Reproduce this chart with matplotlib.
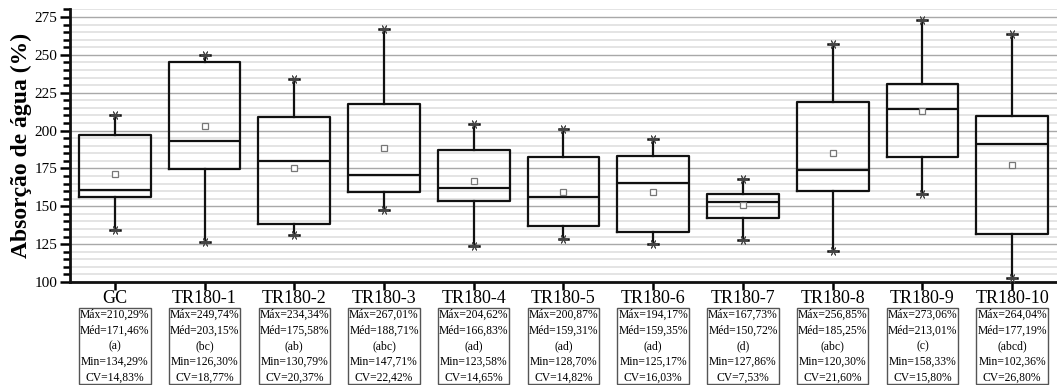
import matplotlib.pyplot as plt
from matplotlib.ticker import MultipleLocator

plt.rcParams['font.family'] = ['Liberation Serif', 'DejaVu Serif']

# Data
grupos = ['GC', 'TR180-1', 'TR180-2', 'TR180-3', 'TR180-4', 'TR180-5',
          'TR180-6', 'TR180-7', 'TR180-8', 'TR180-9', 'TR180-10']
maximo = [210.29, 249.74, 234.34, 267.01, 204.62, 200.87, 194.17, 167.73, 256.85, 273.06, 264.04]
minimo = [134.29, 126.30, 130.79, 147.71, 123.58, 128.70, 125.17, 127.86, 120.30, 158.33, 102.36]
media = [171.46, 203.15, 175.58, 188.71, 166.83, 159.31, 159.35, 150.72, 185.25, 213.01, 177.19]
q3 = [197.1, 245.5, 208.7, 217.8, 187.4, 182.8, 183.4, 157.9, 219.1, 231.0, 209.6]
mediana = [160.7, 193.1, 180.1, 170.4, 162.0, 156.3, 165.6, 152.6, 174.2, 214.2, 190.9]
q1 = [155.9, 174.4, 138.5, 159.4, 153.7, 137.2, 132.8, 142.5, 159.9, 182.8, 131.9]
cv = ['14,83', '18,77', '20,37', '22,42', '14,65', '14,82', '16,03', '7,53', '21,60', '15,80', '26,80']
letras = ['(a)', '(bc)', '(ab)', '(abc)', '(ad)', '(ad)', '(ad)', '(d)', '(abc)', '(c)', '(abcd)']

stats = []
for i in range(len(grupos)):
    stats.append({'label': grupos[i], 'whislo': minimo[i], 'q1': q1[i], 'med': mediana[i],
                  'q3': q3[i], 'whishi': maximo[i], 'mean': media[i], 'fliers': []})

fig = plt.figure(figsize=(10.57, 3.85), dpi=100)
ax = fig.add_axes([0.0662, 0.2675, 0.9338, 0.708])

lc = '#111111'
pos = list(range(1, len(grupos) + 1))
ax.bxp(stats, positions=pos, widths=0.8, showmeans=True, capwidths=0.11,
       boxprops=dict(color=lc, linewidth=1.6),
       medianprops=dict(color=lc, linewidth=1.6),
       whiskerprops=dict(color=lc, linewidth=1.6),
       capprops=dict(color=lc, linewidth=1.8),
       meanprops=dict(marker='s', markerfacecolor='white', markeredgecolor='#777777',
                      markersize=4.5, markeredgewidth=0.9),
       zorder=3)

# asterisks at whisker ends
ax.scatter(pos, maximo, marker=(6, 2, 90), s=35, color='#444444', linewidths=0.7, zorder=4)
ax.scatter(pos, minimo, marker=(6, 2, 90), s=35, color='#444444', linewidths=0.7, zorder=4)

ax.set_xlim(0.5, 11.5)
ax.set_ylim(100, 280)
ax.yaxis.set_major_locator(MultipleLocator(25))
ax.yaxis.set_minor_locator(MultipleLocator(5))
ax.grid(True, which='major', axis='y', color='#a8a8a8', linewidth=1.0, zorder=0)
ax.grid(True, which='minor', axis='y', color='#e2e2e2', linewidth=1.3, zorder=0)
ax.set_axisbelow(True)

for s in ['top', 'right']:
    ax.spines[s].set_visible(False)
for s in ['left', 'bottom']:
    ax.spines[s].set_linewidth(2)
    ax.spines[s].set_color(lc)

ax.tick_params(axis='y', which='major', length=7, width=1.8, labelsize=11, pad=2)
ax.tick_params(axis='y', which='minor', length=5, width=1.8)
ax.tick_params(axis='x', which='major', length=6, width=1.8, labelsize=13, pad=0)
ax.set_xticks(pos)
ax.set_xticklabels(grupos)

ax.set_ylabel('Absorção de água (%)', fontsize=17, fontweight='bold', labelpad=2)

for i in range(len(grupos)):
    txt = ('Máx=%s%%\nMéd=%s%%\n%s\nMin=%s%%\nCV=%s%%' % (
        ('%.2f' % maximo[i]).replace('.', ','), ('%.2f' % media[i]).replace('.', ','),
        letras[i], ('%.2f' % minimo[i]).replace('.', ','), cv[i]))
    ax.text(pos[i], -0.235, txt, transform=ax.get_xaxis_transform(), ha='center', va='center',
            fontsize=8.4, linespacing=1.4,
            bbox=dict(boxstyle='square,pad=0.08', facecolor='white', edgecolor='#555555',
                      linewidth=1.0))

fig.savefig('out.png', dpi=100)
